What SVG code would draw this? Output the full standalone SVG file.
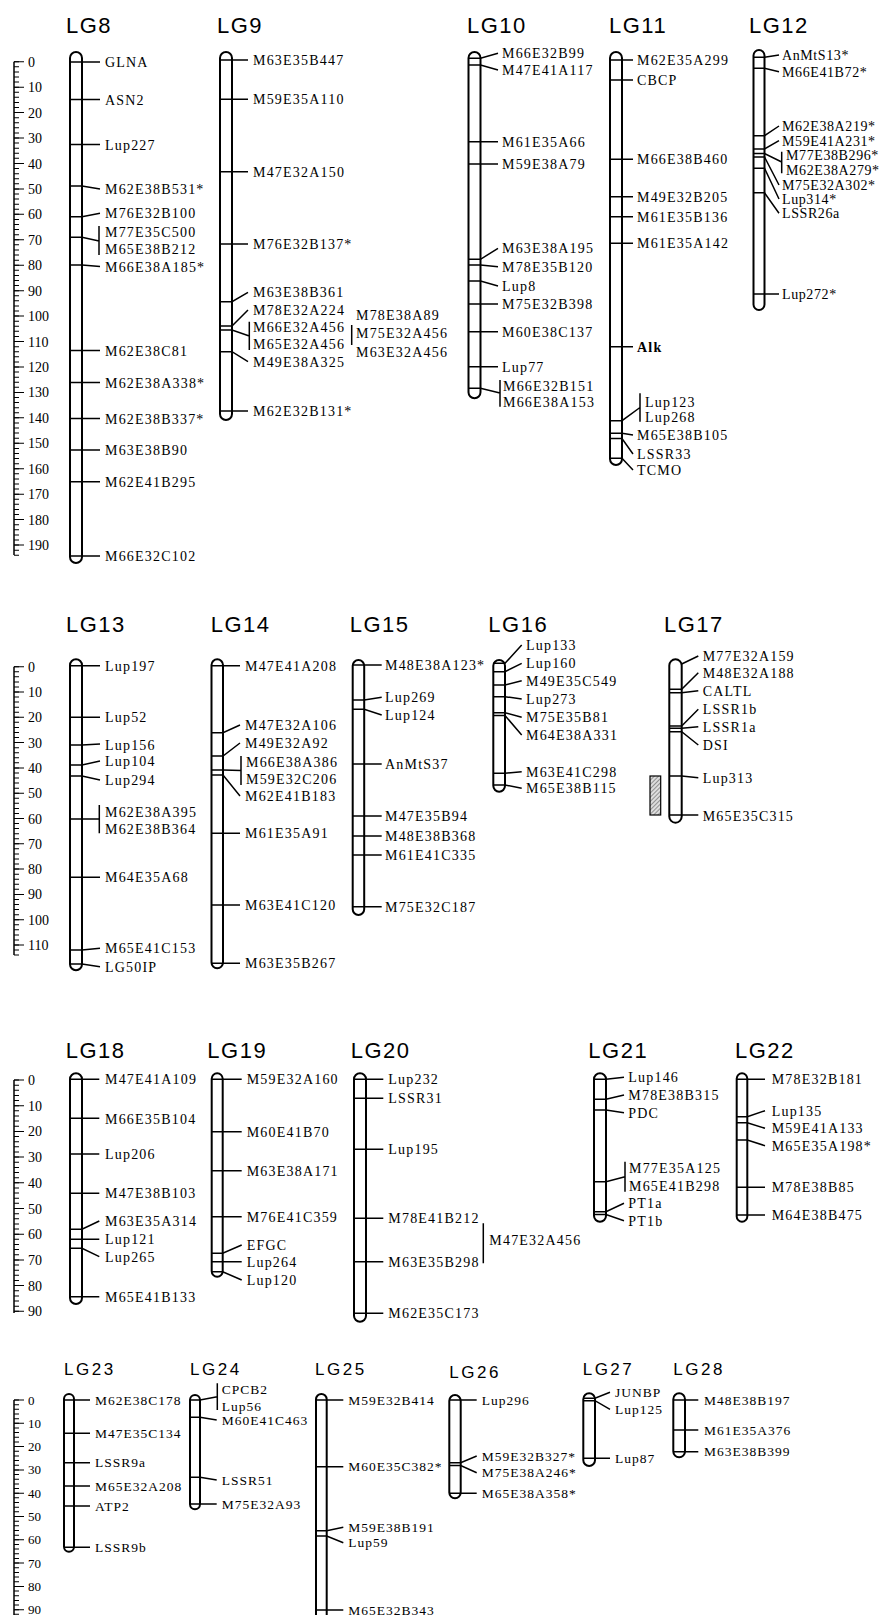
<svg xmlns="http://www.w3.org/2000/svg" width="884" height="1615" viewBox="0 0 884 1615">
<style>
.bar{fill:#fff;stroke:#000;stroke-width:2}
.mk{fill:none;stroke:#000;stroke-width:1.5}
.sp{fill:none;stroke:#000;stroke-width:1.5}
.t{font-family:"Liberation Serif","Times New Roman",serif;font-size:14px;letter-spacing:1.2px;fill:#000}
#LG12 .t{letter-spacing:0.6px}
.r4 .t{font-size:13.5px;letter-spacing:1px}
.b{font-weight:bold}
.ti{font-family:"Liberation Sans",Arial,sans-serif;font-size:22px;letter-spacing:1.5px;fill:#000}
.r4 .ti{font-size:17px;letter-spacing:2.5px}
.sc{font-family:"Liberation Serif","Times New Roman",serif;font-size:14px;fill:#000}
.r4 .sc{font-size:13px}
.tk{fill:none;stroke:#000}
</style>
<defs>
<pattern id="hatch" patternUnits="userSpaceOnUse" width="3" height="3" patternTransform="rotate(45)">
<rect width="3" height="3" fill="#ddd"/>
<line x1="0" y1="0" x2="0" y2="3" stroke="#444" stroke-width="1"/>
</pattern>
</defs>
<rect width="884" height="1615" fill="#fff"/>

<!-- ===== Row 1 ===== -->
<g id="scale1">
<path class="sp" d="M14 61.7V555"/>
<line class="tk" x1="16.5" y1="61.2" x2="16.5" y2="556" stroke-width="5" stroke-dasharray="1 4.088"/>
<line class="tk" x1="19" y1="61.2" x2="19" y2="556" stroke-width="10" stroke-dasharray="1 24.44"/>
<text class="sc" x="28" y="66.7">0</text>
<text class="sc" x="28" y="92.1">10</text>
<text class="sc" x="28" y="117.6">20</text>
<text class="sc" x="28" y="143">30</text>
<text class="sc" x="28" y="168.5">40</text>
<text class="sc" x="28" y="193.9">50</text>
<text class="sc" x="28" y="219.3">60</text>
<text class="sc" x="28" y="244.8">70</text>
<text class="sc" x="28" y="270.2">80</text>
<text class="sc" x="28" y="295.7">90</text>
<text class="sc" x="28" y="321.1">100</text>
<text class="sc" x="28" y="346.5">110</text>
<text class="sc" x="28" y="372">120</text>
<text class="sc" x="28" y="397.4">130</text>
<text class="sc" x="28" y="422.9">140</text>
<text class="sc" x="28" y="448.3">150</text>
<text class="sc" x="28" y="473.7">160</text>
<text class="sc" x="28" y="499.2">170</text>
<text class="sc" x="28" y="524.6">180</text>
<text class="sc" x="28" y="550.1">190</text>
</g>

<g id="LG8">
<text class="ti" x="66" y="33">LG8</text>
<rect class="bar" x="70" y="52" width="12" height="511" rx="6"/>
<text class="t" x="105" y="67">GLNA</text>
<text class="t" x="105" y="105">ASN2</text>
<text class="t" x="105" y="149.5">Lup227</text>
<text class="t" x="105" y="194">M62E38B531*</text>
<text class="t" x="105" y="218.3">M76E32B100</text>
<text class="t" x="105" y="237">M77E35C500</text>
<text class="t" x="105" y="254">M65E38B212</text>
<text class="t" x="105" y="271.5">M66E38A185*</text>
<text class="t" x="105" y="355.5">M62E38C81</text>
<text class="t" x="105" y="387.5">M62E38A338*</text>
<text class="t" x="105" y="423.5">M62E38B337*</text>
<text class="t" x="105" y="455">M63E38B90</text>
<text class="t" x="105" y="486.7">M62E41B295</text>
<text class="t" x="105" y="561">M66E32C102</text>
</g>

<g id="LG9">
<text class="ti" x="217" y="33">LG9</text>
<rect class="bar" x="220" y="52" width="12" height="368" rx="6"/>
<text class="t" x="253" y="65">M63E35B447</text>
<text class="t" x="253" y="104.3">M59E35A110</text>
<text class="t" x="253" y="176.7">M47E32A150</text>
<text class="t" x="253" y="249">M76E32B137*</text>
<text class="t" x="253" y="297.3">M63E38B361</text>
<text class="t" x="253" y="315">M78E32A224</text>
<text class="t" x="253" y="331.7">M66E32A456</text>
<text class="t" x="253" y="349.3">M65E32A456</text>
<text class="t" x="253" y="366.7">M49E38A325</text>
<text class="t" x="253" y="416">M62E32B131*</text>
<text class="t" x="356" y="320">M78E38A89</text>
<text class="t" x="356" y="338.3">M75E32A456</text>
<text class="t" x="356" y="356.7">M63E32A456</text>
</g>

<g id="LG10">
<text class="ti" x="467" y="33">LG10</text>
<rect class="bar" x="468.5" y="52" width="12" height="346.3" rx="6"/>
<text class="t" x="502" y="58.3">M66E32B99</text>
<text class="t" x="502" y="75">M47E41A117</text>
<text class="t" x="502" y="146.7">M61E35A66</text>
<text class="t" x="502" y="169">M59E38A79</text>
<text class="t" x="502" y="253.3">M63E38A195</text>
<text class="t" x="502" y="271.7">M78E35B120</text>
<text class="t" x="502" y="291">Lup8</text>
<text class="t" x="502" y="309">M75E32B398</text>
<text class="t" x="502" y="336.7">M60E38C137</text>
<text class="t" x="502" y="371.7">Lup77</text>
<text class="t" x="503" y="391">M66E32B151</text>
<text class="t" x="503" y="407.3">M66E38A153</text>
</g>

<g id="LG11">
<text class="ti" x="609" y="33">LG11</text>
<rect class="bar" x="610" y="52" width="12" height="413" rx="6"/>
<text class="t" x="637" y="65">M62E35A299</text>
<text class="t" x="637" y="85">CBCP</text>
<text class="t" x="637" y="164.3">M66E38B460</text>
<text class="t" x="637" y="201.7">M49E32B205</text>
<text class="t" x="637" y="221.7">M61E35B136</text>
<text class="t" x="637" y="248.3">M61E35A142</text>
<text class="t b" x="637" y="351.7">Alk</text>
<text class="t" x="645" y="406.7">Lup123</text>
<text class="t" x="645" y="421.7">Lup268</text>
<text class="t" x="637" y="440">M65E38B105</text>
<text class="t" x="637" y="459">LSSR33</text>
<text class="t" x="637" y="475">TCMO</text>
</g>

<g id="LG12">
<text class="ti" x="749" y="33">LG12</text>
<rect class="bar" x="753.5" y="50" width="11" height="260" rx="5.5"/>
<text class="t" x="782" y="60">AnMtS13*</text>
<text class="t" x="782" y="76.7">M66E41B72*</text>
<text class="t" x="782" y="131">M62E38A219*</text>
<text class="t" x="782" y="145.7">M59E41A231*</text>
<text class="t" x="786" y="160">M77E38B296*</text>
<text class="t" x="786" y="175">M62E38A279*</text>
<text class="t" x="782" y="190">M75E32A302*</text>
<text class="t" x="782" y="204">Lup314*</text>
<text class="t" x="782" y="218.3">LSSR26a</text>
<text class="t" x="782" y="299">Lup272*</text>
</g>

<!-- ===== Row 2 ===== -->
<g id="scale2">
<path class="sp" d="M14 666.7V955"/>
<line class="tk" x1="16.5" y1="666.2" x2="16.5" y2="956" stroke-width="5" stroke-dasharray="1 4.06"/>
<line class="tk" x1="19" y1="666.2" x2="19" y2="956" stroke-width="10" stroke-dasharray="1 24.3"/>
<text class="sc" x="28" y="671.7">0</text>
<text class="sc" x="28" y="697">10</text>
<text class="sc" x="28" y="722.3">20</text>
<text class="sc" x="28" y="747.6">30</text>
<text class="sc" x="28" y="772.9">40</text>
<text class="sc" x="28" y="798.2">50</text>
<text class="sc" x="28" y="823.5">60</text>
<text class="sc" x="28" y="848.8">70</text>
<text class="sc" x="28" y="874.1">80</text>
<text class="sc" x="28" y="899.4">90</text>
<text class="sc" x="28" y="924.7">100</text>
<text class="sc" x="28" y="950">110</text>
</g>

<g id="LG13">
<text class="ti" x="66" y="631.7">LG13</text>
<rect class="bar" x="70" y="659.3" width="12" height="311" rx="6"/>
<text class="t" x="105" y="671">Lup197</text>
<text class="t" x="105" y="722.3">Lup52</text>
<text class="t" x="105" y="749.5">Lup156</text>
<text class="t" x="105" y="766">Lup104</text>
<text class="t" x="105" y="785">Lup294</text>
<text class="t" x="105" y="817.3">M62E38A395</text>
<text class="t" x="105" y="834">M62E38B364</text>
<text class="t" x="105" y="882.3">M64E35A68</text>
<text class="t" x="105" y="953.3">M65E41C153</text>
<text class="t" x="105" y="971.7">LG50IP</text>
</g>

<g id="LG14">
<text class="ti" x="210.7" y="631.7">LG14</text>
<rect class="bar" x="211.5" y="659.3" width="11.5" height="309" rx="5.75"/>
<text class="t" x="245" y="670.7">M47E41A208</text>
<text class="t" x="245" y="730">M47E32A106</text>
<text class="t" x="245" y="748">M49E32A92</text>
<text class="t" x="246" y="767">M66E38A386</text>
<text class="t" x="246" y="784">M59E32C206</text>
<text class="t" x="245" y="801">M62E41B183</text>
<text class="t" x="245" y="838.3">M61E35A91</text>
<text class="t" x="245" y="910">M63E41C120</text>
<text class="t" x="245" y="968.3">M63E35B267</text>
</g>

<g id="LG15">
<text class="ti" x="349.7" y="631.7">LG15</text>
<rect class="bar" x="352.7" y="660" width="11.5" height="255" rx="5.75"/>
<text class="t" x="385" y="670">M48E38A123*</text>
<text class="t" x="385" y="702.3">Lup269</text>
<text class="t" x="385" y="720">Lup124</text>
<text class="t" x="385" y="769">AnMtS37</text>
<text class="t" x="385" y="821">M47E35B94</text>
<text class="t" x="385" y="841">M48E38B368</text>
<text class="t" x="385" y="860">M61E41C335</text>
<text class="t" x="385" y="911.7">M75E32C187</text>
</g>

<g id="LG16">
<text class="ti" x="488.3" y="631.7">LG16</text>
<rect class="bar" x="493.3" y="660" width="11.7" height="131.7" rx="5.85"/>
<text class="t" x="526" y="650">Lup133</text>
<text class="t" x="526" y="668.3">Lup160</text>
<text class="t" x="526" y="685.7">M49E35C549</text>
<text class="t" x="526" y="704">Lup273</text>
<text class="t" x="526" y="722.3">M75E35B81</text>
<text class="t" x="526" y="740">M64E38A331</text>
<text class="t" x="526" y="776.7">M63E41C298</text>
<text class="t" x="526" y="793.3">M65E38B115</text>
</g>

<g id="LG17">
<text class="ti" x="664" y="631.7">LG17</text>
<rect x="650" y="776" width="10.7" height="39" fill="url(#hatch)" stroke="#000" stroke-width="1.2"/>
<rect class="bar" x="669.3" y="659.3" width="12.4" height="163.4" rx="6.2"/>
<text class="t" x="702.7" y="661">M77E32A159</text>
<text class="t" x="702.7" y="677.7">M48E32A188</text>
<text class="t" x="702.7" y="695.7">CALTL</text>
<text class="t" x="702.7" y="714.3">LSSR1b</text>
<text class="t" x="702.7" y="731.7">LSSR1a</text>
<text class="t" x="702.7" y="750">DSI</text>
<text class="t" x="702.7" y="782.7">Lup313</text>
<text class="t" x="702.7" y="820.7">M65E35C315</text>
</g>

<!-- ===== Row 3 ===== -->
<g id="scale3">
<path class="sp" d="M14 1080V1313"/>
<line class="tk" x1="16.5" y1="1079.5" x2="16.5" y2="1313" stroke-width="5" stroke-dasharray="1 4.14"/>
<line class="tk" x1="19" y1="1079.5" x2="19" y2="1313" stroke-width="10" stroke-dasharray="1 24.7"/>
<text class="sc" x="28" y="1085">0</text>
<text class="sc" x="28" y="1110.7">10</text>
<text class="sc" x="28" y="1136.4">20</text>
<text class="sc" x="28" y="1162.1">30</text>
<text class="sc" x="28" y="1187.8">40</text>
<text class="sc" x="28" y="1213.5">50</text>
<text class="sc" x="28" y="1239.2">60</text>
<text class="sc" x="28" y="1264.9">70</text>
<text class="sc" x="28" y="1290.6">80</text>
<text class="sc" x="28" y="1316.3">90</text>
</g>

<g id="LG18">
<text class="ti" x="65.7" y="1058.3">LG18</text>
<rect class="bar" x="70" y="1073.3" width="12" height="230.7" rx="6"/>
<text class="t" x="105" y="1084.3">M47E41A109</text>
<text class="t" x="105" y="1124">M66E35B104</text>
<text class="t" x="105" y="1159">Lup206</text>
<text class="t" x="105" y="1198.3">M47E38B103</text>
<text class="t" x="105" y="1226">M63E35A314</text>
<text class="t" x="105" y="1244.3">Lup121</text>
<text class="t" x="105" y="1261.7">Lup265</text>
<text class="t" x="105" y="1301.7">M65E41B133</text>
</g>

<g id="LG19">
<text class="ti" x="207.3" y="1058.3">LG19</text>
<rect class="bar" x="211.7" y="1073.3" width="11" height="203.4" rx="5.5"/>
<text class="t" x="246.7" y="1084.3">M59E32A160</text>
<text class="t" x="246.7" y="1136.7">M60E41B70</text>
<text class="t" x="246.7" y="1175.7">M63E38A171</text>
<text class="t" x="246.7" y="1221.7">M76E41C359</text>
<text class="t" x="246.7" y="1250">EFGC</text>
<text class="t" x="246.7" y="1266.7">Lup264</text>
<text class="t" x="246.7" y="1285">Lup120</text>
</g>

<g id="LG20">
<text class="ti" x="350.7" y="1058.3">LG20</text>
<rect class="bar" x="354" y="1073.3" width="12" height="248.4" rx="6"/>
<text class="t" x="388.3" y="1084.3">Lup232</text>
<text class="t" x="388.3" y="1103.3">LSSR31</text>
<text class="t" x="388.3" y="1154.3">Lup195</text>
<text class="t" x="388.3" y="1223.3">M78E41B212</text>
<text class="t" x="388.3" y="1266.7">M63E35B298</text>
<text class="t" x="388.3" y="1318.3">M62E35C173</text>
<text class="t" x="489.3" y="1245">M47E32A456</text>
</g>

<g id="LG21">
<text class="ti" x="588.3" y="1058.3">LG21</text>
<rect class="bar" x="594" y="1073.3" width="12" height="148.4" rx="6"/>
<text class="t" x="628.3" y="1082.3">Lup146</text>
<text class="t" x="628.3" y="1100">M78E38B315</text>
<text class="t" x="628.3" y="1117.7">PDC</text>
<text class="t" x="629" y="1172.7">M77E35A125</text>
<text class="t" x="629" y="1191">M65E41B298</text>
<text class="t" x="628.3" y="1208.3">PT1a</text>
<text class="t" x="628.3" y="1225.7">PT1b</text>
</g>

<g id="LG22">
<text class="ti" x="735" y="1058.3">LG22</text>
<rect class="bar" x="736.7" y="1073.3" width="10.6" height="148.4" rx="5.3"/>
<text class="t" x="771.7" y="1084.3">M78E32B181</text>
<text class="t" x="771.7" y="1115.7">Lup135</text>
<text class="t" x="771.7" y="1133.3">M59E41A133</text>
<text class="t" x="771.7" y="1150.7">M65E35A198*</text>
<text class="t" x="771.7" y="1192.3">M78E38B85</text>
<text class="t" x="771.7" y="1220">M64E38B475</text>
</g>

<!-- ===== Row 4 ===== -->
<g class="r4">
<g id="scale4">
<path class="sp" d="M14 1400V1615"/>
<line class="tk" x1="16.5" y1="1399.5" x2="16.5" y2="1615" stroke-width="5" stroke-dasharray="1 3.66"/>
<line class="tk" x1="19" y1="1399.5" x2="19" y2="1615" stroke-width="10" stroke-dasharray="1 22.3"/>
<text class="sc" x="28" y="1404.5">0</text>
<text class="sc" x="28" y="1427.8">10</text>
<text class="sc" x="28" y="1451.1">20</text>
<text class="sc" x="28" y="1474.4">30</text>
<text class="sc" x="28" y="1497.7">40</text>
<text class="sc" x="28" y="1521">50</text>
<text class="sc" x="28" y="1544.3">60</text>
<text class="sc" x="28" y="1567.6">70</text>
<text class="sc" x="28" y="1590.9">80</text>
<text class="sc" x="28" y="1614.2">90</text>
</g>

<g id="LG23">
<text class="ti" x="64" y="1375">LG23</text>
<rect class="bar" x="64" y="1394" width="10" height="157.7" rx="5"/>
<text class="t" x="95" y="1404.5">M62E38C178</text>
<text class="t" x="95" y="1437.8">M47E35C134</text>
<text class="t" x="95" y="1467.2">LSSR9a</text>
<text class="t" x="95" y="1490.5">M65E32A208</text>
<text class="t" x="95" y="1510.5">ATP2</text>
<text class="t" x="95" y="1551.8">LSSR9b</text>
</g>

<g id="LG24">
<text class="ti" x="190" y="1375">LG24</text>
<rect class="bar" x="190" y="1395" width="10" height="114.3" rx="5"/>
<text class="t" x="221.7" y="1393.8">CPCB2</text>
<text class="t" x="221.7" y="1411.2">Lup56</text>
<text class="t" x="221.7" y="1424.5">M60E41C463</text>
<text class="t" x="221.7" y="1484.5">LSSR51</text>
<text class="t" x="221.7" y="1508.5">M75E32A93</text>
</g>

<g id="LG25">
<text class="ti" x="315" y="1375">LG25</text>
<rect class="bar" x="316" y="1394" width="10.7" height="260" rx="5.35"/>
<text class="t" x="348.3" y="1404.5">M59E32B414</text>
<text class="t" x="348.3" y="1471.2">M60E35C382*</text>
<text class="t" x="348.3" y="1531.8">M59E38B191</text>
<text class="t" x="348.3" y="1547.2">Lup59</text>
<text class="t" x="348.3" y="1614.5">M65E32B343</text>
</g>

<g id="LG26">
<text class="ti" x="449.3" y="1378.3">LG26</text>
<rect class="bar" x="449.3" y="1395" width="11.4" height="103.3" rx="5.7"/>
<text class="t" x="481.7" y="1404.5">Lup296</text>
<text class="t" x="481.7" y="1460.5">M59E32B327*</text>
<text class="t" x="481.7" y="1477.2">M75E38A246*</text>
<text class="t" x="481.7" y="1497.8">M65E38A358*</text>
</g>

<g id="LG27">
<text class="ti" x="582.7" y="1375">LG27</text>
<rect class="bar" x="583.3" y="1393.3" width="11.7" height="72.7" rx="5.85"/>
<text class="t" x="615" y="1396.8">JUNBP</text>
<text class="t" x="615" y="1413.8">Lup125</text>
<text class="t" x="615" y="1462.8">Lup87</text>
</g>

<g id="LG28">
<text class="ti" x="673.3" y="1375">LG28</text>
<rect class="bar" x="673.3" y="1393.3" width="11.7" height="64" rx="5.85"/>
<text class="t" x="704" y="1404.5">M48E38B197</text>
<text class="t" x="704" y="1434.5">M61E35A376</text>
<text class="t" x="704" y="1456.2">M63E38B399</text>
</g>
</g>

<!-- ===== Connectors (marker lines) ===== -->
<g id="connectors" class="mk">
<path id="c-LG8" d="M70 62H100M70 99.5H100M70 144.5H100M70 186H82L100 189M70 216.7H82L100 213.3M70 237.3H82L99 241M99 226V255M70 265H82L100 266.5M70 350.5H100M70 382.5H100M70 418.5H100M70 450H100M70 481.7H100M70 556H100"/>
<path id="c-LG9" d="M220 60H248M220 99.3H248M220 171.7H248M220 244H248M220 301.7H232L248 292.3M220 326H232L248 310M220 330H232L249.3 336M249.3 321.7V350M220 351.7H232L248 361.7M220 411H248M351.7 325V345"/>
<path id="c-LG10" d="M468.5 58.3H480.5L498 53.3M468.5 65H480.5L498 70M468.5 141.7H498M468.5 164H498M468.5 259.3H480.5L498 248.3M468.5 265H480.5L498 266.7M468.5 281H480.5L498 286M468.5 304H498M468.5 331.7H498M468.5 366.7H498M468.5 388.3H480.5L500 393M500 380V406.7"/>
<path id="c-LG11" d="M610 60H633M610 80H633M610 159.3H633M610 196.7H633M610 216.7H633M610 243.3H633M610 346.7H633M610 420.7H622L640 407.5M640 393.3V421.7M610 433.3H622L633 435M610 438.5H622L633 454M610 458.3H622L633 470"/>
<path id="c-LG12" d="M753.5 57.3H764.5L779 55M753.5 68.3H764.5L779 71.7M753.5 135.7H764.5L779 126M753.5 149H764.5L779 140.7M753.5 153.5H764.5L781.7 162M781.7 151.7V173.3M753.5 157H764.5L779 185M753.5 168.3H764.5L779 199M753.5 192.7H764.5L779 213.3M753.5 294H779"/>
<path id="c-LG13" d="M70 665.7H100M70 717.3H100M70 745H82L100 744M70 765H82L100 761M70 776H82L100 780M70 819H99.3M99.3 805V833.3M70 877.3H100M70 950H82L100 948.3M70 964H82L100 966.7"/>
<path id="c-LG14" d="M211.5 665.7H240M211.5 732.7H223L240 725M211.5 756H223L240 743M211.5 770H223L241 770.5M241 756V785M211.5 775H223L240 796M211.5 833.3H240M211.5 905H240M211.5 963.3H240"/>
<path id="c-LG15" d="M352.7 665H381.7M352.7 700H364.2L381.7 697.3M352.7 709.3H364.2L381.7 715M352.7 764H381.7M352.7 816H381.7M352.7 836H381.7M352.7 855H381.7M352.7 906.7H381.7"/>
<path id="c-LG16" d="M493.3 663.3H505L521.7 645M493.3 671.7H505L521.7 663.3M493.3 685H505L521.7 680.7M493.3 696.7H505L521.7 699M493.3 712.7H505L521.7 717.3M493.3 715.5H505L521.7 735M493.3 773.3H505L521.7 771.7M493.3 785H505L521.7 788.3"/>
<path id="c-LG17" d="M681.7 664L698.3 656M669.3 689.3H681.7L698.3 672.7M669.3 692.7H681.7L698.3 690.7M669.3 726H681.7L698.3 709.3M669.3 728.3H681.7L698.3 726.7M669.3 731.7H681.7L698.3 745M669.3 776H681.7L698.3 777.7M669.3 815H698.3"/>
<path id="c-LG18" d="M70 1079.3H99.3M70 1118.3H99.3M70 1154H99.3M70 1193.3H99.3M70 1229.3H82L99.3 1221M70 1239.3H99.3M70 1248.3H82L99.3 1256.7M70 1296.7H99.3"/>
<path id="c-LG19" d="M211.7 1079.3H241.7M211.7 1131.7H241.7M211.7 1170.7H241.7M211.7 1216.7H241.7M211.7 1253.3H222.7L241.7 1245M211.7 1261.7H241.7M211.7 1271.7H222.7L241.7 1280"/>
<path id="c-LG20" d="M354 1079.3H383.3M354 1098.3H383.3M354 1149.3H383.3M354 1218.3H383.3M354 1261.7H383.3M354 1313.3H383.3M483.3 1223.3V1263.3"/>
<path id="c-LG21" d="M594 1079.3H606L624 1077.3M594 1099.3H606L624 1095M594 1110H606L624 1112.7M594 1181.7H606L625 1176.7M625 1161.7V1191.7M594 1211.7H606L624 1203.3M594 1214.5H606L624 1220.7"/>
<path id="c-LG22" d="M736.7 1079.3H765M736.7 1116.7H747.3L765 1110.7M736.7 1122.7H747.3L765 1128.3M736.7 1140H747.3L765 1145.7M736.7 1187.3H765M736.7 1215H765"/>
<path id="c-LG23" d="M64 1400H90M64 1433.3H90M64 1462.7H90M64 1486H90M64 1506H90M64 1547.3H90"/>
<path id="c-LG24" d="M190 1400H200L217.3 1396.7M217.3 1383.3V1410M190 1417.3H200L216.7 1420M190 1477.3H200L216.7 1480M190 1504H216.7"/>
<path id="c-LG25" d="M316 1400H343.3M316 1466.7H343.3M316 1530.7H326.7L343.3 1527.3M316 1536H326.7L343.3 1542.7M316 1610H343.3"/>
<path id="c-LG26" d="M449.3 1400H476.7M449.3 1462.7H460.7L476.7 1456M449.3 1465.5H460.7L476.7 1472.7M449.3 1493.3H476.7"/>
<path id="c-LG27" d="M583.3 1398.3H595L610 1392.3M583.3 1400.7H595L610 1409.3M583.3 1458.3H610"/>
<path id="c-LG28" d="M673.3 1400H698.3M673.3 1430H698.3M673.3 1451.7H698.3"/>
</g>
</svg>
